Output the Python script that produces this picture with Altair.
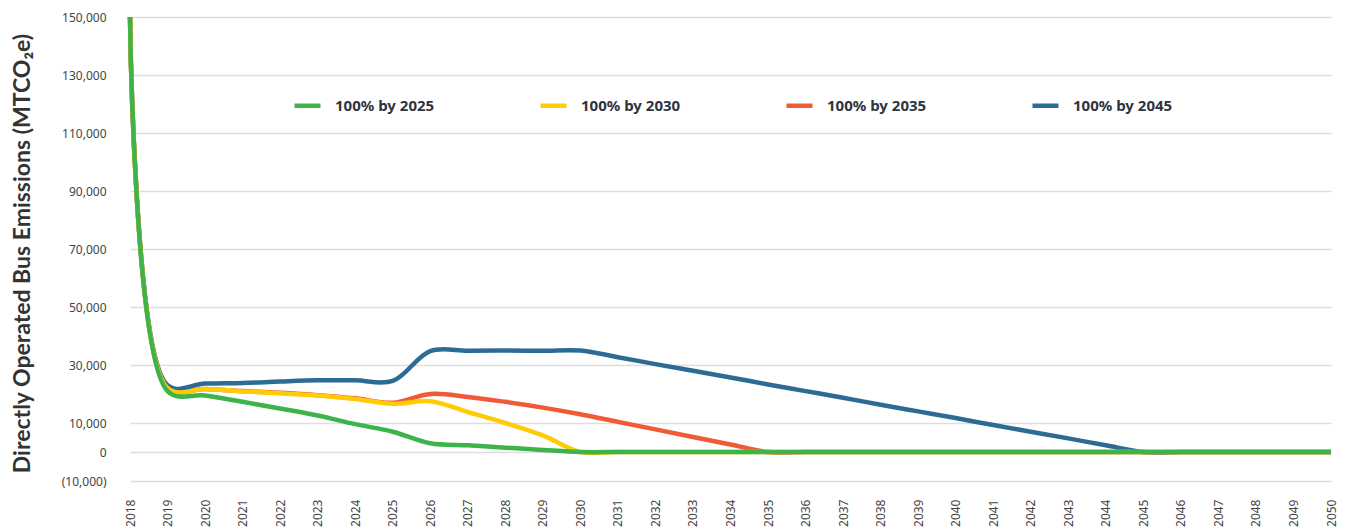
import altair as alt
import pandas as pd

years = list(range(2018, 2051))
series_names = ["100% by 2025", "100% by 2030", "100% by 2035", "100% by 2045"]
series_colors = ["#3DB44A", "#FFCB05", "#F15A36", "#2D6B95"]

by_2025 = [150000, 21000, 19500, 17300, 15000, 12600, 9600, 7000, 3000, 2300,
           1500, 700, 0, 0, 0, 0, 0, 0, 0, 0,
           0, 0, 0, 0, 0, 0, 0, 0, 0, 0,
           0, 0, 0]
by_2030 = [150000, 22000, 21700, 20900, 20300, 19500, 18300, 16600, 17500, 13800,
           10000, 5700, 0, 0, 0, 0, 0, 0, 0, 0,
           0, 0, 0, 0, 0, 0, 0, 0, 0, 0,
           0, 0, 0]
by_2035 = [150000, 22000, 21700, 21000, 20400, 19600, 18500, 17000, 20000, 19000,
           17300, 15300, 13000, 10400, 7800, 5200, 2600, 0, 0, 0,
           0, 0, 0, 0, 0, 0, 0, 0, 0, 0,
           0, 0, 0]
by_2045 = [150000, 23000, 23600, 23800, 24300, 24700, 24700, 24500, 34800, 34900,
           35000, 34900, 35000, 32700, 30300, 28000, 25700, 23300, 21000, 18700,
           16300, 14000, 11700, 9300, 7000, 4700, 2300, 0, 0, 0,
           0, 0, 0]

y_ticks = [-10000, 0, 10000, 30000, 50000, 70000, 90000, 110000, 130000, 150000]

# draw order: blue first, green last (on top)
rows = []
for name, vals in [(series_names[3], by_2045), (series_names[2], by_2035),
                   (series_names[1], by_2030), (series_names[0], by_2025)]:
    for yr, v in zip(years, vals):
        rows.append({"year": yr, "value": v, "series": name})
df = pd.DataFrame(rows)

tick_font = "Noto Sans"

chart = alt.Chart(df).mark_line(
    interpolate="catmull-rom", strokeWidth=4.5
).encode(
    x=alt.X("year:Q",
            scale=alt.Scale(domain=[2018, 2050], nice=False, zero=False),
            axis=alt.Axis(values=years, format="d", labelAngle=270,
                          labelFont=tick_font, labelFontSize=12,
                          labelColor="#444444", labelPadding=18,
                          grid=False, domain=False, ticks=False, title=None,
                          labelOverlap=False)),
    y=alt.Y("value:Q",
            scale=alt.Scale(domain=[-10000, 150000], nice=False, zero=False),
            axis=alt.Axis(values=y_ticks,
                          labelExpr="datum.value < 0 ? '(' + format(-datum.value, ',') + ')' : format(datum.value, ',')",
                          labelFont=tick_font, labelFontSize=12,
                          labelColor="#444444", labelPadding=24,
                          grid=True, gridColor="#DEDEDE", gridWidth=1.6,
                          domain=False, ticks=False,
                          title="Directly Operated Bus Emissions (MTCO\u2082e)",
                          titleFont="Lato", titleFontSize=23,
                          titleFontWeight="bold", titleLimit=600,
                          titleColor="#333333", titleAngle=270,
                          titleX=-108, titleY=236, titleAlign="center",
                          titleBaseline="middle")),
    color=alt.Color("series:N",
                    scale=alt.Scale(domain=series_names, range=series_colors),
                    legend=alt.Legend(orient="none", legendX=162, legendY=73,
                                      direction="horizontal", columns=4,
                                      symbolType="stroke", symbolSize=676,
                                      symbolStrokeWidth=4.5,
                                      labelFont=tick_font, labelFontSize=15,
                                      labelFontWeight="bold", labelColor="#2E3440",
                                      labelOffset=12, columnPadding=96,
                                      gridAlign="all", title=None)),
).properties(
    width=1201, height=464,
    padding={"left": 122, "top": 9, "right": 7, "bottom": 48},
    autosize=alt.AutoSizeParams(type="none"),
    background="white",
).configure_view(strokeWidth=0)

chart.save("out.html", embed_options={"renderer": "svg", "actions": False})
